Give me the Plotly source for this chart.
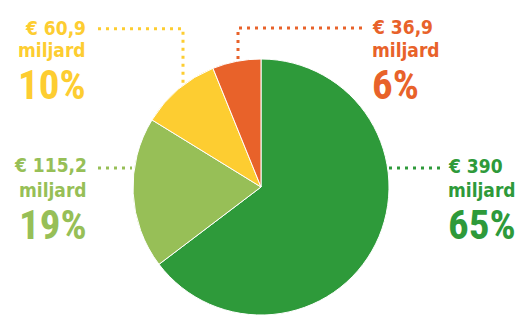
import plotly.graph_objects as go

# Data
categories = ["Groen", "Lichtgroen", "Geel", "Oranje"]
values = [390, 115.2, 60.9, 36.9]
percent_labels = ["65%", "19%", "10%", "6%"]
unit_label = "miljard"
colors = ["#2E9A3A", "#97BF57", "#FDCD31", "#E8622A"]

W, H = 525, 315

def px(x):
    return x / W

def py(y):
    return 1 - y / H

def fmt(v):
    return "€ " + f"{v:g}".replace(".", ",")

fig = go.Figure()
fig.add_trace(go.Pie(
    labels=categories,
    values=values,
    sort=False,
    direction="clockwise",
    rotation=0,
    textinfo="none",
    hoverinfo="label+value+percent",
    marker=dict(colors=colors, line=dict(color="white", width=1)),
    domain=dict(x=[(261 - 128) / W, (261 + 128) / W], y=[0, 256 / H]),
    showlegend=False,
))

small_font = "DejaVu Sans Condensed, DejaVu Sans, sans-serif"
big_font = "Noto Sans ExtraCondensed, Noto Sans Condensed, Roboto Condensed, Roboto, sans-serif"

# label layout: (index, x, anchor, y of value line, y of unit line, y of percent line)
label_pos = [
    (0, 446, "left", 165.5, 190, 225),
    (1, 89, "right", 165, 190, 225),
    (2, 88, "right", 28, 50, 85),
    (3, 370, "left", 27, 50, 85),
]

annotations = []
for i, x, anchor, y1, y2, y3 in label_pos:
    c = colors[i]
    annotations.append(dict(x=px(x), y=py(y1), xref="paper", yref="paper",
                            text="<b>" + fmt(values[i]) + "</b>", showarrow=False,
                            xanchor=anchor, yanchor="middle",
                            font=dict(family=small_font, size=19, color=c)))
    annotations.append(dict(x=px(x), y=py(y2), xref="paper", yref="paper",
                            text="<b>" + unit_label + "</b>", showarrow=False,
                            xanchor=anchor, yanchor="middle",
                            font=dict(family=small_font, size=19, color=c)))
    annotations.append(dict(x=px(x), y=py(y3), xref="paper", yref="paper",
                            text="<b>" + percent_labels[i] + "</b>", showarrow=False,
                            xanchor=anchor, yanchor="middle",
                            font=dict(family=big_font, size=41, color=c)))

def dotted(points, color):
    path = "M " + " L ".join(f"{px(x)} {py(y)}" for x, y in points)
    return dict(type="path", path=path, xref="paper", yref="paper",
                line=dict(color=color, width=3, dash="3px,5px"))

shapes = [
    dotted([(98, 28.7), (183, 28.7), (183, 86)], colors[2]),
    dotted([(362, 28), (238, 28), (238, 61)], colors[3]),
    dotted([(98, 168), (132, 168)], colors[1]),
    dotted([(389, 168), (441, 168)], colors[0]),
]

fig.update_layout(
    width=W, height=H,
    margin=dict(l=0, r=0, t=0, b=0),
    paper_bgcolor="white",
    plot_bgcolor="white",
    annotations=annotations,
    shapes=shapes,
)

fig.write_html("out.html", config={"displayModeBar": False},
               post_script="document.body.style.margin='0';document.body.style.overflow='hidden';")
